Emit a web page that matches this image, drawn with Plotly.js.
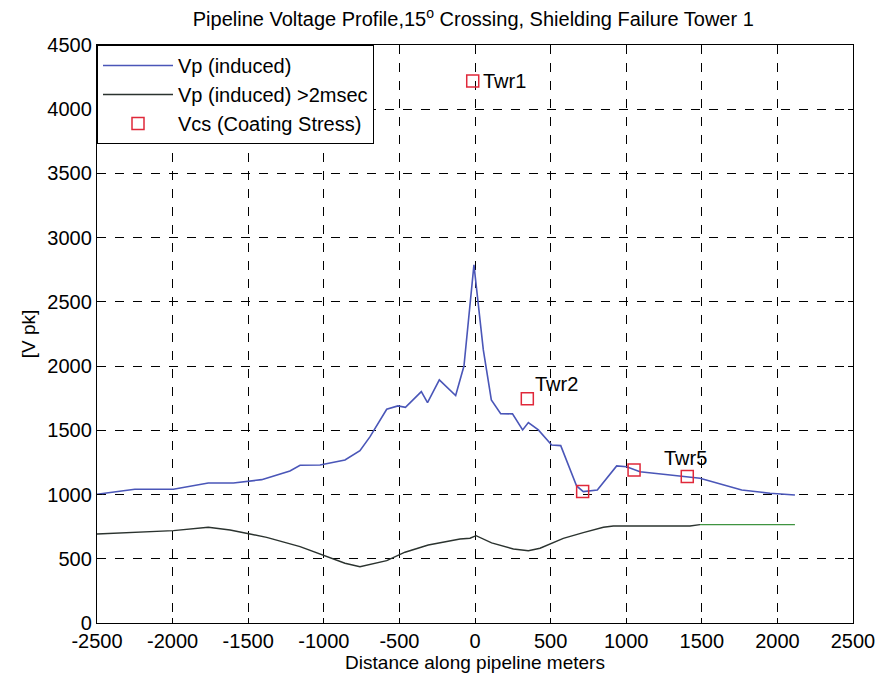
<!DOCTYPE html>
<html>
<head>
<meta charset="utf-8">
<script src="https://cdn.plot.ly/plotly-3.0.1.min.js"></script>
<style>
  html, body { margin: 0; padding: 0; background: #ffffff; }
  #chart { width: 883px; height: 681px; }
</style>
</head>
<body>
<div id="chart"></div>
<script>
// Induced pipeline voltage along the pipeline (m, V peak)
const vpDist = [-2500, -2250, -1995, -1764, -1598, -1411, -1224, -1157, -1025, -860, -761, -694,
  -584, -510, -460, -355, -314, -236, -128, -73, -7, 55, 108, 170, 248, 315, 353, 419, 507,
  567, 672, 716, 809, 937, 1003, 1091, 1245, 1488, 1764, 1951, 2116];
const vpVolt = [1002, 1041, 1041, 1090, 1090, 1116, 1184, 1228, 1230, 1269, 1342, 1451,
  1664, 1690, 1679, 1801, 1716, 1893, 1771, 2001, 2788, 2126, 1737, 1630, 1628, 1503, 1560, 1503, 1386,
  1381, 1067, 1023, 1036, 1223, 1217, 1178, 1158, 1127, 1036, 1010, 997];

// Induced voltage lasting longer than 2 ms
const vp2Dist = [-2500, -1995, -1764, -1620, -1488, -1378, -1157, -1003, -860, -761, -584, -463,
  -309, -99, -33, 7, 110, 254, 353, 430, 584, 716, 849, 915, 1422, 1488];
const vp2Volt = [693, 719, 745, 724, 693, 667, 594, 524, 465, 438, 485, 551,
  607, 654, 660, 680, 624, 576, 563, 582, 659, 703, 745, 755, 755, 766];
// Tail of the same curve, drawn in green
const vp2TailDist = [1488, 2116];
const vp2TailVolt = [766, 766];

// Coating stress at the towers
const vcsDist = [-15, 346, 712, 1052, 1404];
const vcsVolt = [4220, 1745, 1023, 1192, 1140];
const towerLabels = ["Twr1", "Twr2", "Twr5"];

const xTicks = [-2500, -2000, -1500, -1000, -500, 0, 500, 1000, 1500, 2000, 2500];
const yTicks = [0, 500, 1000, 1500, 2000, 2500, 3000, 3500, 4000, 4500];

const FONT = "Liberation Sans, Arial, sans-serif";

const traces = [
  {
    x: vpDist, y: vpVolt, type: "scatter", mode: "lines",
    name: "Vp (induced)",
    line: { color: "#4a56b8", width: 1.6 }
  },
  {
    x: vp2Dist, y: vp2Volt, type: "scatter", mode: "lines",
    name: "Vp (induced) >2msec",
    line: { color: "#2b332f", width: 1.4 }
  },
  {
    x: vp2TailDist, y: vp2TailVolt, type: "scatter", mode: "lines",
    showlegend: false, hoverinfo: "skip",
    line: { color: "#3f9440", width: 1.4 }
  },
  {
    x: vcsDist, y: vcsVolt, type: "scatter", mode: "markers",
    name: "Vcs (Coating Stress)",
    marker: { symbol: "square-open", size: 12, color: "#e0283a", line: { width: 1.5, color: "#e0283a" } }
  }
];

const axisCommon = {
  showline: true, mirror: "ticks", linecolor: "#000", linewidth: 1.2,
  ticks: "inside", ticklen: 5, tickcolor: "#000",
  showgrid: true, gridcolor: "#000", griddash: "dash", gridwidth: 1,
  zeroline: false,
  tickfont: { family: FONT, size: 20, color: "#000" }
};

const layout = {
  width: 883, height: 681,
  margin: { l: 97, r: 30, t: 45, b: 58 },
  paper_bgcolor: "#ffffff", plot_bgcolor: "#ffffff",
  title: {
    text: "Pipeline Voltage Profile,15<sup>o</sup> Crossing, Shielding Failure Tower 1",
    font: { family: FONT, size: 20, color: "#000" },
    x: 0.536, xanchor: "center", y: 0.972, yanchor: "middle"
  },
  xaxis: Object.assign({}, axisCommon, {
    range: [-2500, 2500], tickvals: xTicks, ticktext: xTicks.map(String),
    title: { text: "Distance along pipeline meters", font: { family: FONT, size: 19, color: "#000" }, standoff: 2 }
  }),
  yaxis: Object.assign({}, axisCommon, {
    range: [0, 4500], tickvals: yTicks, ticktext: yTicks.map(String),
    title: { text: "[V pk]", font: { family: FONT, size: 19, color: "#000" }, standoff: 6 }
  }),
  showlegend: true,
  legend: {
    x: 0, y: 1, xanchor: "left", yanchor: "top",
    bgcolor: "#ffffff", bordercolor: "#000", borderwidth: 1,
    font: { family: FONT, size: 20, color: "#000" },
    tracegroupgap: 0, itemwidth: 70
  },
  annotations: [
    { x: vcsDist[0], y: vcsVolt[0], text: towerLabels[0], showarrow: false,
      xanchor: "left", yanchor: "middle", xshift: 8,
      font: { family: FONT, size: 20, color: "#000" } },
    { x: vcsDist[1], y: vcsVolt[1], text: towerLabels[1], showarrow: false,
      xanchor: "left", yanchor: "bottom", xshift: 6, yshift: 2,
      font: { family: FONT, size: 20, color: "#000" } },
    { x: vcsDist[4], y: vcsVolt[4], text: towerLabels[2], showarrow: false,
      xanchor: "center", yanchor: "bottom", xshift: -2, yshift: 6,
      font: { family: FONT, size: 20, color: "#000" } }
  ]
};

Plotly.newPlot("chart", traces, layout, { displayModeBar: false, staticPlot: true });
</script>
</body>
</html>
